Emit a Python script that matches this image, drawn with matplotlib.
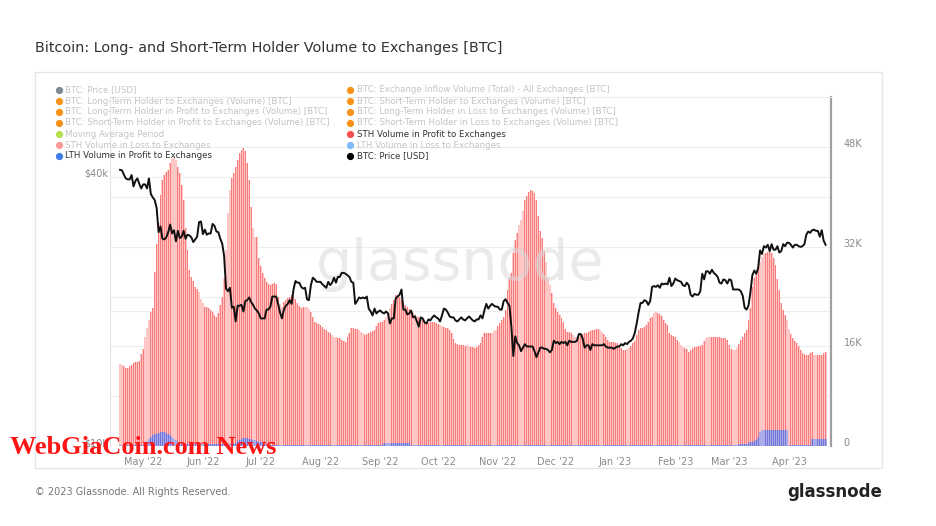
import matplotlib
matplotlib.use("Agg")
import matplotlib.pyplot as plt
import matplotlib.dates as mdates
import matplotlib.transforms as mtransforms
from matplotlib.patches import Rectangle
from matplotlib.lines import Line2D
from matplotlib.ticker import FixedLocator, NullLocator, NullFormatter
import numpy as np
import pandas as pd

plt.rcParams['font.family'] = ['DejaVu Sans']

# ---------------- data ----------------
start_date = "2022-04-19"
n_days = 367

# STH Volume in Profit to Exchanges (thousand BTC), daily
sth_profit_k = [
    13.2, 13.0, 12.8, 12.6, 12.5, 12.8, 13.0, 13.3, 13.5, 13.5, 13.6, 14.8,
    15.6, 17.5, 19.0, 20.3, 21.5, 22.2, 28.0, 32.5,
    35.9, 40.4, 42.8, 43.6, 44.0, 44.4, 45.5, 46.1, 46.4, 46.0,
    44.9, 43.9, 42.0, 39.6, 35.0, 31.5, 28.3, 27.2, 26.5, 25.6,
    25.2, 24.8, 23.6, 23.0, 22.4, 22.3, 22.2, 21.8, 21.5, 21.0,
    20.7, 21.3, 22.6, 24.0, 27.0, 31.5, 37.5, 41.2, 43.0, 43.9,
    44.8, 46.0, 47.1, 47.6, 47.9, 47.5, 45.5, 42.8, 38.4, 35.0,
    33.6, 33.6, 30.2, 29.0, 27.8, 27.0, 26.3, 26.0, 25.9, 26.0,
    26.2, 26.1, 24.0, 22.8, 22.4, 23.2, 23.5, 23.8, 24.0, 24.2,
    24.3, 23.6, 23.0, 22.5, 22.2, 22.3, 22.4, 22.4, 22.0, 21.5,
    20.8, 20.0, 19.8, 19.6, 19.5, 19.1, 18.8, 18.6, 18.4, 18.2,
    17.9, 17.6, 17.5, 17.4, 17.3, 17.0, 16.8, 16.7, 17.5, 18.2,
    19.0, 18.9, 18.8, 18.8, 18.6, 18.3, 18.2, 17.8, 18.0, 18.2,
    18.4, 18.5, 18.7, 19.3, 19.8, 19.9, 20.0, 20.3, 20.7, 21.5,
    22.2, 22.8, 23.5, 24.3, 24.3, 24.0, 23.5, 23.0, 22.7, 22.4,
    22.1, 21.8, 21.5, 21.2, 20.9, 20.7, 20.4, 20.2, 20.0, 19.9,
    19.8, 19.9, 20.0, 20.0, 19.8, 19.6, 19.5, 19.3, 19.1, 19.0,
    18.9, 18.7, 18.2, 17.2, 16.6, 16.4, 16.3, 16.2, 16.2, 16.1,
    16.2, 16.0, 15.9, 15.9, 15.8, 15.9, 16.2, 16.6, 17.5, 18.2,
    18.1, 18.2, 18.1, 18.2, 18.5, 18.7, 19.3, 19.8, 20.3, 20.8,
    21.9, 25.0, 27.0, 27.8, 31.0, 33.1, 34.3, 35.5, 36.3, 37.8,
    39.5, 40.2, 40.8, 41.1, 41.0, 40.6, 39.6, 37.0, 34.5, 33.4,
    31.4, 29.5, 27.0, 25.8, 24.6, 23.0, 22.2, 21.5, 21.1, 20.5,
    20.0, 18.8, 18.4, 18.3, 18.2, 17.9, 17.6, 17.5, 17.6, 17.8,
    18.0, 18.2, 18.2, 18.3, 18.5, 18.6, 18.7, 18.8, 18.8, 18.6,
    18.3, 18.0, 17.6, 17.0, 16.7, 16.7, 16.7, 16.6, 16.6, 16.2,
    15.8, 15.4, 15.5, 15.6, 15.8, 16.1, 16.5, 16.9, 17.8, 18.7,
    18.9, 19.0, 19.1, 19.5, 20.0, 20.5, 20.8, 21.3, 21.5, 21.4,
    21.2, 20.9, 20.2, 19.8, 19.4, 18.2, 17.9, 17.7, 17.5, 17.0,
    16.7, 16.2, 15.9, 15.8, 15.6, 15.1, 15.4, 15.8, 15.9, 15.9,
    16.0, 16.1, 16.2, 16.8, 17.4, 17.5, 17.5, 17.5, 17.5, 17.5,
    17.5, 17.5, 17.4, 17.4, 17.4, 17.1, 16.2, 15.6, 15.4, 15.5,
    15.8, 16.4, 17.0, 17.5, 18.1, 18.7, 20.3, 22.2, 25.5, 27.0,
    27.8, 28.8, 29.5, 30.4, 30.9, 31.1, 31.2, 31.2, 31.0, 30.2,
    29.1, 26.8, 25.0, 23.0, 21.9, 21.0, 20.3, 18.8, 18.0, 17.4,
    16.8, 16.5, 16.0, 15.4, 15.0, 14.8, 14.7, 14.6, 14.9, 15.1,
    14.7, 14.6, 14.6, 14.6, 14.7, 14.9, 15.1,
]

# LTH Volume in Profit to Exchanges (thousand BTC), daily
lth_profit_k = (
    [0.2] * 13
    + [0.5, 0.8, 1.1, 1.4, 1.7, 1.9, 2.0, 2.1, 2.2, 2.2, 2.2, 2.1, 2.0, 1.8, 1.5, 1.2, 0.9, 0.6, 0.4]
    + [0.3] * 28
    + [0.5, 0.8, 1.0, 1.2, 1.3, 1.3, 1.3, 1.2, 1.1, 1.0, 0.9, 0.8, 0.7, 0.6, 0.5, 0.3]
    + [0.1] * 61
    + [0.5] * 14
    + [0.15] * 170
    + [0.3, 0.3, 0.35, 0.4, 0.4, 0.5, 0.6, 0.7, 0.8, 1.0, 1.5, 2.2, 2.5]
    + [2.6] * 13
    + [0.2] * 12
    + [1.1] * 8
)

# BTC price (thousand USD), daily
price_k = [
    41.5, 41.4, 40.5, 39.7, 39.5, 39.5, 40.4, 38.1, 39.2, 39.7, 38.6, 37.7,
    38.5, 38.5, 37.7, 39.7, 36.6, 36.0, 35.5, 34.1, 30.1, 31.0, 29.1, 29.0, 29.3, 30.1,
    31.3, 29.9, 30.4, 28.7, 30.3, 29.2, 29.4, 30.3, 29.1, 29.7, 29.6, 29.3, 28.6, 29.0,
    29.4, 31.7, 31.8,
    29.8, 30.5, 29.7, 29.9, 29.9, 31.4, 31.1, 30.2, 30.1, 29.1, 28.4, 26.6, 22.5, 22.2,
    22.6, 20.4, 20.5, 19.0, 20.6, 20.6, 20.7, 20.0, 21.1, 21.2, 21.5, 21.0, 20.7, 20.3,
    20.1, 19.8,
    19.3, 19.3, 19.3, 20.2, 20.2, 20.5, 21.6, 21.6, 21.6, 20.8, 19.9, 19.3, 20.2, 20.6,
    20.8, 21.2, 20.8, 22.4, 23.4, 23.2, 23.2, 22.7, 22.5, 22.6, 21.3, 21.2, 22.9, 23.8,
    23.6, 23.3, 23.3,
    23.3, 23.0, 22.8, 22.6, 23.3, 22.9, 23.2, 23.8, 23.2, 23.9, 23.9, 24.4, 24.4, 24.3,
    24.1, 23.9, 23.3, 23.2, 20.8, 21.1, 21.5, 21.4, 21.5, 21.4, 21.6, 20.3, 20.0, 19.6,
    20.3, 19.8, 20.0,
    20.1, 19.9, 19.8, 20.0, 19.8, 18.8, 19.3, 19.3, 21.4, 21.6, 21.8, 22.4, 20.2, 20.2,
    19.7, 19.8, 20.1, 19.4, 19.5, 19.0, 18.5, 19.4, 19.3, 18.9, 18.8, 19.2, 19.1, 19.4,
    19.6, 19.4,
    19.3, 19.0, 19.6, 20.3, 20.2, 19.9, 19.5, 19.4, 19.4, 19.1, 19.0, 19.2, 19.4, 19.2,
    19.1, 19.3, 19.5, 19.3, 19.1, 19.0, 19.2, 19.2, 19.6, 19.3, 20.1, 20.8, 20.3, 20.6,
    20.8, 20.6, 20.5,
    20.5, 20.2, 20.2, 21.1, 21.3, 20.9, 20.6, 18.5, 15.9, 17.6, 17.0, 16.8, 16.3, 16.6,
    16.9, 16.7, 16.7, 16.7, 16.7, 16.3, 15.8, 16.2, 16.6, 16.6, 16.5, 16.5, 16.4, 16.2,
    16.4, 17.2,
    17.0, 17.1, 16.9, 17.1, 17.0, 17.1, 16.8, 17.2, 17.1, 17.1, 17.1, 17.2, 17.8, 17.8,
    17.4, 16.6, 16.8, 16.8, 16.4, 16.9, 16.8, 16.8, 16.8, 16.8, 16.8, 16.9, 16.7, 16.6,
    16.6, 16.6, 16.5,
    16.6, 16.7, 16.7, 16.9, 16.8, 17.0, 16.9, 17.1, 17.2, 17.4, 17.9, 18.8, 19.9, 20.9,
    20.9, 21.2, 21.1, 20.7, 21.1, 22.7, 22.8, 22.7, 22.9, 22.6, 23.1, 23.0, 23.1, 23.0,
    23.8, 22.8, 23.1,
    23.7, 23.5, 23.4, 23.3, 22.9, 22.8, 23.2, 22.9, 21.8, 21.6, 21.9, 21.8, 21.8, 22.2,
    24.3, 23.6, 24.6, 24.6, 24.3, 24.8, 24.4, 24.2, 23.9, 23.2, 23.1, 23.6, 23.5, 23.1,
    23.6, 23.5, 22.4, 22.4, 22.4, 22.4, 22.2, 21.7, 20.4, 20.2, 20.6, 22.1, 24.1, 24.7,
    24.3, 25.0, 27.4, 26.9, 28.0, 27.8, 28.2, 27.3, 28.3, 27.5, 27.5, 28.0, 27.1, 27.3,
    28.3, 28.0, 28.5,
    28.5, 28.2, 27.8, 28.2, 28.2, 28.0, 27.9, 28.0, 28.3, 29.7, 30.2, 30.0, 30.4, 30.5,
    30.3, 30.3, 29.4, 30.4, 28.8, 28.2,
]

right_ticks_k = [0, 16, 32, 48]
right_tick_labels = ["0", "16K", "32K", "48K"]
right_grid_k = [8, 16, 24, 32, 40, 48]
left_ticks = [10000, 40000]
left_tick_labels = ["$10k", "$40k"]
left_grid = [20000, 40000]
month_ticks = ["2022-05-01", "2022-06-01", "2022-07-01", "2022-08-01", "2022-09-01",
               "2022-10-01", "2022-11-01", "2022-12-01", "2023-01-01", "2023-02-01",
               "2023-03-01", "2023-04-01"]
month_labels = ["May '22", "Jun '22", "Jul '22", "Aug '22", "Sep '22", "Oct '22",
                "Nov '22", "Dec '22", "Jan '23", "Feb '23", "Mar '23", "Apr '23"]

legend_left = [
    ("BTC: Price [USD]", "#7d8a93", False),
    ("BTC: Long-Term Holder to Exchanges (Volume) [BTC]", "#f7931a", False),
    ("BTC: Long-Term Holder in Profit to Exchanges (Volume) [BTC]", "#f7931a", False),
    ("BTC: Short-Term Holder in Profit to Exchanges (Volume) [BTC]", "#f7931a", False),
    ("Moving Average Period", "#b6e14f", False),
    ("STH Volume in Loss to Exchanges", "#ff9a9a", False),
    ("LTH Volume in Profit to Exchanges", "#3d7fe6", True),
]
legend_right = [
    ("BTC: Exchange Inflow Volume (Total) - All Exchanges [BTC]", "#f7931a", False),
    ("BTC: Short-Term Holder to Exchanges (Volume) [BTC]", "#f7931a", False),
    ("BTC: Long-Term Holder in Loss to Exchanges (Volume) [BTC]", "#f7931a", False),
    ("BTC: Short-Term Holder in Loss to Exchanges (Volume) [BTC]", "#f7931a", False),
    ("STH Volume in Profit to Exchanges", "#f25050", True),
    ("LTH Volume in Loss to Exchanges", "#7cbcf7", False),
    ("BTC: Price [USD]", "#000000", True),
]

# ---------------- figure ----------------
W, H = 937, 526
fig = plt.figure(figsize=(W / 100, H / 100), dpi=100)
fig.patch.set_facecolor("white")

def fx(px):
    return px / W

def fy(py):
    return 1 - py / H

# outer card
fig.patches.append(Rectangle((fx(35), fy(468)), fx(882) - fx(35), fy(72) - fy(468),
                             transform=fig.transFigure, fill=False,
                             edgecolor="#e6e6e6", linewidth=1.0, zorder=0))

left, right, top, bottom = 110, 831, 97, 446
ax = fig.add_axes([fx(left), fy(bottom), fx(right) - fx(left), fy(top) - fy(bottom)])
ax2 = ax.twinx()

dates = pd.date_range(start_date, periods=n_days, freq="D")
sth = np.array(sth_profit_k)
lth = np.array(lth_profit_k)
price = np.array(price_k) * 1000

# gridlines (behind bars)
for yv in right_grid_k:
    ax.axhline(yv, color="#eeeeee", linewidth=0.8, zorder=1)

# bars (right axis)
ax.bar(dates, sth, width=1.0, color="#ffc6c6", linewidth=0, zorder=2)
ax.bar(dates, sth, width=0.42, color="#f77b7b", linewidth=0, zorder=3)
ax.bar(dates, lth, width=1.0, color="#9aa8f0", alpha=0.85, linewidth=0, zorder=4)
ax.bar(dates, lth, width=0.42, color="#6a6fd8", alpha=0.9, linewidth=0, zorder=5)

x0 = pd.Timestamp(start_date) - pd.Timedelta(days=5.2)
x1 = pd.Timestamp(start_date) + pd.Timedelta(days=368.8)
ax.set_xlim(x0, x1)
ax.set_ylim(0, 56.1)

ax.yaxis.tick_right()
ax.yaxis.set_major_locator(FixedLocator(right_ticks_k))
ax.set_yticklabels(right_tick_labels)
ax.tick_params(axis="y", length=0, pad=9, labelsize=7, labelcolor="#8a8a8a")

ax.xaxis.set_major_locator(FixedLocator(mdates.date2num(pd.to_datetime(month_ticks))))
ax.set_xticklabels(month_labels)
ax.tick_params(axis="x", length=0, pad=8, labelsize=7, labelcolor="#8a8a8a")

# price (left axis, log)
ax2.plot(dates, price, color="#111111", linewidth=1.4, zorder=6)
ax2.set_yscale("log")
ax2.set_ylim(10000, 60400)
ax2.yaxis.tick_left()
ax2.yaxis.set_major_locator(FixedLocator(left_ticks))
ax2.yaxis.set_minor_locator(NullLocator())
ax2.yaxis.set_minor_formatter(NullFormatter())
ax2.set_yticklabels(left_tick_labels)
ax2.tick_params(axis="y", length=0, pad=1, labelsize=7, labelcolor="#8a8a8a")

# price gridlines drawn in the bar axes so they stay behind the bars
blend = mtransforms.blended_transform_factory(ax.transAxes, ax2.transData)
for pv in left_grid:
    ax.add_line(Line2D([0, 1], [pv, pv], transform=blend, color="#eeeeee",
                       linewidth=0.8, zorder=1))

# tick label offsets (labels sit slightly above gridlines)
off = mtransforms.ScaledTranslation(0, 4 / 100, fig.dpi_scale_trans)
for lab in ax.get_yticklabels() + ax2.get_yticklabels():
    lab.set_transform(lab.get_transform() + off)

for a in (ax, ax2):
    a.set_facecolor("none")
    for s in a.spines.values():
        s.set_visible(False)
ax2.spines["left"].set_visible(True)
ax2.spines["left"].set_color("#e4e4e4")
ax2.spines["top"].set_visible(True)
ax2.spines["top"].set_color("#eeeeee")
ax2.spines["right"].set_visible(True)
ax2.spines["right"].set_color("#a0a0a0")
ax2.spines["right"].set_linewidth(1.6)

# glassnode watermark
ax2.text(0.486, 0.52, "glassnode", transform=ax.transAxes, ha="center", va="center",
         fontsize=41, color="#d9d9d9", alpha=0.55, zorder=5)

# title
fig.text(fx(35), fy(48), "Bitcoin: Long- and Short-Term Holder Volume to Exchanges [BTC]",
         ha="left", va="center", fontsize=10.4, color="#333333")

# legend
rows = [90, 101, 112, 123, 134, 145, 156]
for (items, xd, xt) in ((legend_left, 59, 65), (legend_right, 350, 357)):
    for (txt, col, active), yy in zip(items, rows):
        fig.lines.append(Line2D([fx(xd)], [fy(yy)], marker="o", markersize=4.2,
                                color=col, linestyle="none",
                                transform=fig.transFigure, zorder=10))
        fig.text(fx(xt), fy(yy), txt, ha="left", va="center", fontsize=6.2,
                 color="#333333" if active else "#c4c4c4", zorder=10)

# footer
fig.text(fx(35), fy(492), "\u00a9 2023 Glassnode. All Rights Reserved.", ha="left",
         va="center", fontsize=7, color="#777777")
fig.text(fx(882), fy(492), "glassnode", ha="right", va="center", fontsize=12,
         color="#222222", fontweight="bold")

# overlaid red watermark
fig.text(fx(10), fy(447), "WebGiaCoin.com News", ha="left", va="center",
         fontsize=19, color="#ff1414", fontweight="bold", family="Liberation Serif",
         zorder=20)

fig.savefig("out.png", dpi=100)
